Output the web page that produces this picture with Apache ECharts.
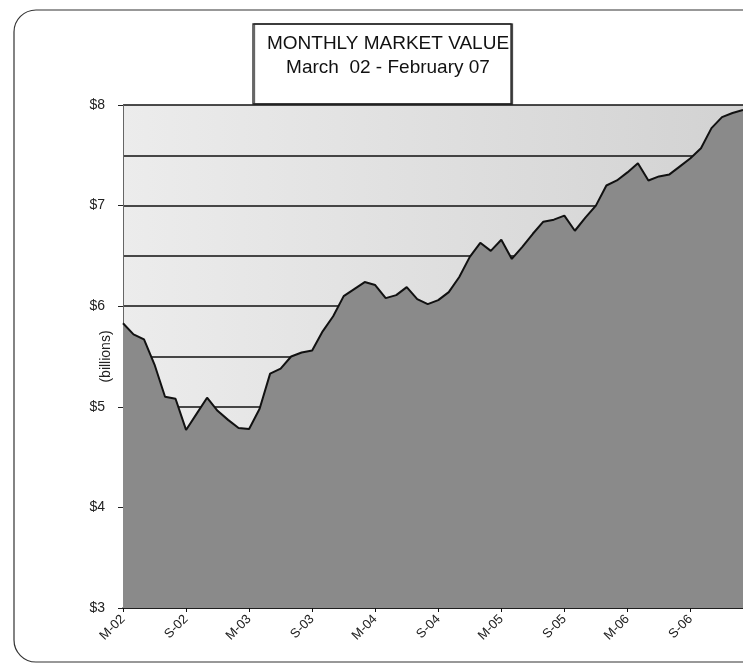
<!DOCTYPE html>
<html>
<head>
<meta charset="utf-8">
<script src="https://cdn.jsdelivr.net/npm/echarts@6/dist/echarts.min.js"></script>
<style>
  html, body { margin: 0; padding: 0; background: #fff; }
  #chart { width: 743px; height: 667px; }
</style>
</head>
<body>
<div id="chart"></div>
<script>
// monthly categories, March 02 .. February 07
var months = [
  'Mar-02', 'Apr-02', 'May-02', 'Jun-02', 'Jul-02', 'Aug-02', 'Sep-02', 'Oct-02', 'Nov-02', 'Dec-02',
  'Jan-03', 'Feb-03', 'Mar-03', 'Apr-03', 'May-03', 'Jun-03', 'Jul-03', 'Aug-03', 'Sep-03', 'Oct-03',
  'Nov-03', 'Dec-03', 'Jan-04', 'Feb-04', 'Mar-04', 'Apr-04', 'May-04', 'Jun-04', 'Jul-04', 'Aug-04',
  'Sep-04', 'Oct-04', 'Nov-04', 'Dec-04', 'Jan-05', 'Feb-05', 'Mar-05', 'Apr-05', 'May-05', 'Jun-05',
  'Jul-05', 'Aug-05', 'Sep-05', 'Oct-05', 'Nov-05', 'Dec-05', 'Jan-06', 'Feb-06', 'Mar-06', 'Apr-06',
  'May-06', 'Jun-06', 'Jul-06', 'Aug-06', 'Sep-06', 'Oct-06', 'Nov-06', 'Dec-06', 'Jan-07', 'Feb-07'
]

// market value, $ billions
var marketValue = [
  5.83, 5.72, 5.67, 5.42, 5.10, 5.08, 4.77, 4.93, 5.09, 4.96,
  4.87, 4.79, 4.78, 4.98, 5.33, 5.38, 5.50, 5.54, 5.56, 5.75,
  5.90, 6.10, 6.17, 6.24, 6.21, 6.08, 6.11, 6.19, 6.07, 6.02,
  6.06, 6.14, 6.29, 6.49, 6.63, 6.55, 6.66, 6.47, 6.59, 6.72,
  6.84, 6.86, 6.90, 6.75, 6.88, 7.00, 7.20, 7.25, 7.33, 7.42,
  7.25, 7.29, 7.31, 7.39, 7.47, 7.57, 7.77, 7.88, 7.92, 7.95
]

var yTickLabels = { 3: '$3', 4: '$4', 5: '$5', 6: '$6', 7: '$7', 8: '$8' }

var chart = echarts.init(document.getElementById('chart'))

chart.setOption({
  animation: false,
  textStyle: { fontFamily: 'Liberation Sans, Arial, sans-serif' },
  title: {
    text: 'MONTHLY MARKET VALUE',
    subtext: 'March  02 - February 07',
    left: 383,
    top: 29,
    textAlign: 'center',
    itemGap: 5,
    textStyle: { fontSize: 19, fontWeight: 'normal', color: '#111' },
    subtextStyle: { fontSize: 19, color: '#111' }
  },
  graphic: [
    {
      // rounded frame round the whole chart
      type: 'rect',
      z: -10,
      silent: true,
      shape: { x: 14, y: 10, width: 780, height: 652, r: 22 },
      style: { fill: 'none', stroke: '#333', lineWidth: 1.2 }
    },
    {
      // box behind the title
      type: 'rect',
      z: 5,
      silent: true,
      shape: { x: 253, y: 24, width: 258, height: 80 },
      style: { fill: '#fff', stroke: '#222', lineWidth: 1.3,
        shadowColor: 'rgba(0,0,0,0.6)', shadowOffsetX: 1.5, shadowOffsetY: 0 }
    }
  ],
  grid: {
    left: 123,
    right: -4,
    top: 105,
    bottom: 59,
    show: true,
    borderWidth: 0,
    backgroundColor: new echarts.graphic.LinearGradient(0, 0, 1, 0, [
      { offset: 0, color: '#ececec' },
      { offset: 1, color: '#d2d2d2' }
    ])
  },
  xAxis: {
    type: 'category',
    data: months,
    boundaryGap: false,
    axisLine: { lineStyle: { color: '#111', width: 1.5 } },
    axisTick: { interval: 5, length: 4, lineStyle: { color: '#111' } },
    axisLabel: {
      interval: 5,
      rotate: 45,
      margin: 9,
      fontSize: 13,
      color: '#222',
      formatter: function (v) { return v.charAt(0) + v.slice(3) }
    },
    splitLine: { show: false }
  },
  yAxis: {
    type: 'value',
    min: 3,
    max: 8,
    interval: 1,
    name: '(billions)',
    nameLocation: 'middle',
    nameRotate: 90,
    nameGap: 10,
    nameMoveOverlap: false,
    nameTextStyle: { fontSize: 14, color: '#222' },
    axisLine: { show: true, lineStyle: { color: '#666', width: 1 } },
    axisTick: { show: true, length: 5, lineStyle: { color: '#222' } },
    axisLabel: {
      margin: 18,
      fontSize: 14,
      color: '#222',
      formatter: function (v) { return yTickLabels[v] || '' }
    },
    splitLine: { show: true, lineStyle: { color: '#111', width: 1.5 } },
    minorTick: { show: false, splitNumber: 2 },
    minorSplitLine: { show: true, lineStyle: { color: '#111', width: 1.5 } }
  },
  series: [{
    type: 'line',
    data: marketValue,
    symbol: 'none',
    lineStyle: { color: '#111', width: 2 },
    areaStyle: { color: '#8a8a8a', opacity: 1, origin: 'start' }
  }]
})
</script>
</body>
</html>
